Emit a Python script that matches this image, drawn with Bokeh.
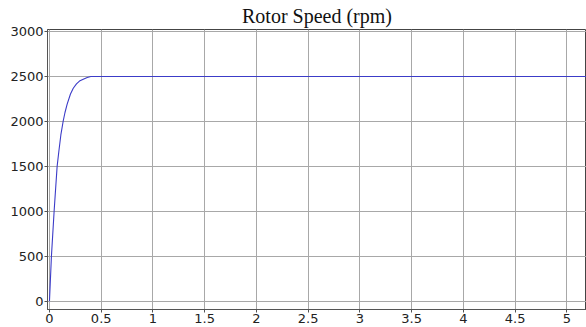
from bokeh.plotting import figure
from bokeh.models import FixedTicker, Range1d
from bokeh.embed import file_html
from bokeh.resources import INLINE

# Rotor speed response (time in s, speed in rpm)
time_s = [0, 0.019, 0.045, 0.074, 0.09, 0.11, 0.132, 0.15, 0.171, 0.203,
          0.23, 0.261, 0.29, 0.332, 0.365, 0.40, 0.5, 5.2]
speed_rpm = [0, 500, 1000, 1500, 1660, 1850, 2000, 2100, 2194, 2306,
             2370, 2418, 2450, 2474, 2490, 2500, 2500, 2500]

x_ticks = [0, 0.5, 1, 1.5, 2, 2.5, 3, 3.5, 4, 4.5, 5]
x_tick_labels = ["0", "0.5", "1", "1.5", "2", "2.5", "3", "3.5", "4", "4.5", "5"]
y_ticks = [0, 500, 1000, 1500, 2000, 2500, 3000]

p = figure(width=586, height=327, output_backend="svg", toolbar_location=None,
           x_range=Range1d(-0.019, 5.19), y_range=Range1d(-93, 3024),
           min_border_left=47, min_border_right=0, min_border_top=2,
           min_border_bottom=18)

p.title.text = "Rotor Speed (rpm)"
p.title.text_font = "Liberation Serif"
p.title.text_font_size = "20px"
p.title.text_font_style = "normal"
p.title.align = "center"
p.title.text_color = "#111111"
p.title.standoff = 5

p.line(time_s, speed_rpm, line_color="#3c3cc8", line_width=1.1)

p.xaxis.ticker = FixedTicker(ticks=x_ticks)
p.xaxis.major_label_overrides = {t: s for t, s in zip(x_ticks, x_tick_labels)}
p.yaxis.ticker = FixedTicker(ticks=y_ticks)

for ax in (p.xaxis, p.yaxis):
    ax.major_label_text_font = "DejaVu Sans"
    ax.major_label_text_font_size = "13px"
    ax.major_label_text_color = "#222222"
    ax.axis_line_color = "#555555"
    ax.major_tick_line_color = "#555555"
    ax.major_tick_in = 0
    ax.major_tick_out = 3
    ax.minor_tick_line_color = None
    ax.major_label_standoff = 1

p.grid.grid_line_color = "#a8a8a8"
p.grid.grid_line_width = 1
p.outline_line_color = "#444444"
p.outline_line_width = 1
p.background_fill_color = "white"
p.border_fill_color = "white"

open("out.html", "w").write(file_html(p, INLINE))
